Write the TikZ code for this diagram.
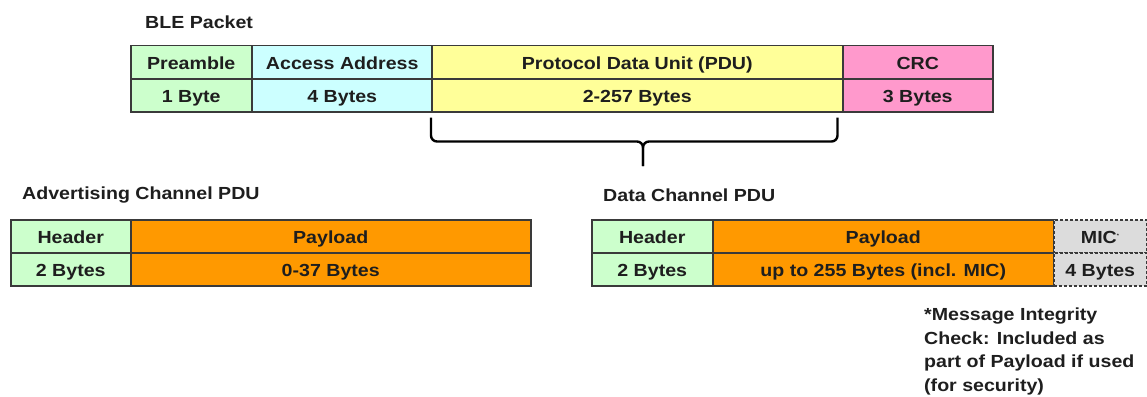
\documentclass[tikz,border=0pt]{standalone}
\usepackage{fontspec}
\setmainfont{Liberation Sans}[FakeStretch=1.12]
\definecolor{ink}{HTML}{1E1E1E}
\definecolor{edge}{HTML}{3A3A3A}
\definecolor{cgreen}{HTML}{CCFFCC}
\definecolor{ccyan}{HTML}{CCFFFF}
\definecolor{cyellow}{HTML}{FFFF99}
\definecolor{cpink}{HTML}{FF99CC}
\definecolor{corange}{HTML}{FF9900}
\definecolor{cgrey}{HTML}{DCDCDC}
\tikzset{
  cell/.style={draw=edge, line width=1.5pt, inner sep=0pt, anchor=north west,
    minimum height=33pt, text height=15pt, text depth=0pt, text=ink,
    font=\fontsize{17.5}{20}\selectfont\bfseries},
  optcell/.style={cell, dashed, dash pattern=on 3pt off 2pt, fill=cgrey},
  caption/.style={anchor=west, inner sep=0pt, text=ink, font=\fontsize{17.5}{20}\selectfont\bfseries},
  brace/.style={line width=2.4pt, rounded corners=6pt, black}
}
\begin{document}
\begin{tikzpicture}[x=1pt,y=-1pt]
\useasboundingbox (0,0) rectangle (1147,396);

% BLE packet
\node[caption] (blelbl) at (145,22) {BLE Packet};
\node[cell, fill=cgreen, minimum width=121pt] (pre) at (130,45) {Preamble};
\node[cell, fill=cgreen, minimum width=121pt] (preb) at (130,78) {1 Byte};
\node[cell, fill=ccyan, minimum width=181pt] (aa) at (251,45) {Access Address};
\node[cell, fill=ccyan, minimum width=181pt] (aab) at (251,78) {4 Bytes};
\node[cell, fill=cyellow, minimum width=411pt] (pdu) at (431,45) {Protocol Data Unit (PDU)};
\node[cell, fill=cyellow, minimum width=411pt] (pdub) at (431,78) {2-257 Bytes};
\node[cell, fill=cpink, minimum width=150pt] (crc) at (842,45) {CRC};
\node[cell, fill=cpink, minimum width=150pt] (crcb) at (842,78) {3 Bytes};

% brace under the PDU
\coordinate (bl) at ([yshift=-5pt]pdub.south west);
\coordinate (br) at ([xshift=-6pt,yshift=-5pt]pdub.south east);
\coordinate (tip) at (643,166);
\draw[brace] (bl) -- ++(0,24) -| (tip);
\draw[brace] (br) -- ++(0,24) -| (tip);

% Advertising channel PDU
\node[caption] (advlbl) at (22,195) {Advertising Channel PDU};
\node[cell, fill=cgreen, minimum width=120pt] (ahdr) at (10,219) {Header};
\node[cell, fill=cgreen, minimum width=120pt] (ahdrb) at (10,252) {2 Bytes};
\node[cell, fill=corange, minimum width=400pt] (apl) at (130,219) {Payload};
\node[cell, fill=corange, minimum width=400pt] (aplb) at (130,252) {0-37 Bytes};

% Data channel PDU
\node[caption] (datlbl) at (603,195) {Data Channel PDU};
\node[cell, fill=cgreen, minimum width=121pt] (dhdr) at (591,219) {Header};
\node[cell, fill=cgreen, minimum width=121pt] (dhdrb) at (591,252) {2 Bytes};
\node[cell, fill=corange, minimum width=341pt] (dpl) at (712,219) {Payload};
\node[cell, fill=corange, minimum width=341pt] (dplb) at (712,252) {up to 255 Bytes (incl. MIC)};
\node[optcell, minimum width=93pt] (mic) at (1053,219) {MIC\textsuperscript{\tiny *}};
\node[optcell, minimum width=93pt] (micb) at (1053,252) {4 Bytes};

% footnote
\node[caption, anchor=north west, align=left, font=\fontsize{17.5}{23.5}\selectfont\bfseries]
  (note) at (924,308) {*Message Integrity\\Check: Included as\\part of Payload if used\\(for security)};
\end{tikzpicture}
\end{document}
